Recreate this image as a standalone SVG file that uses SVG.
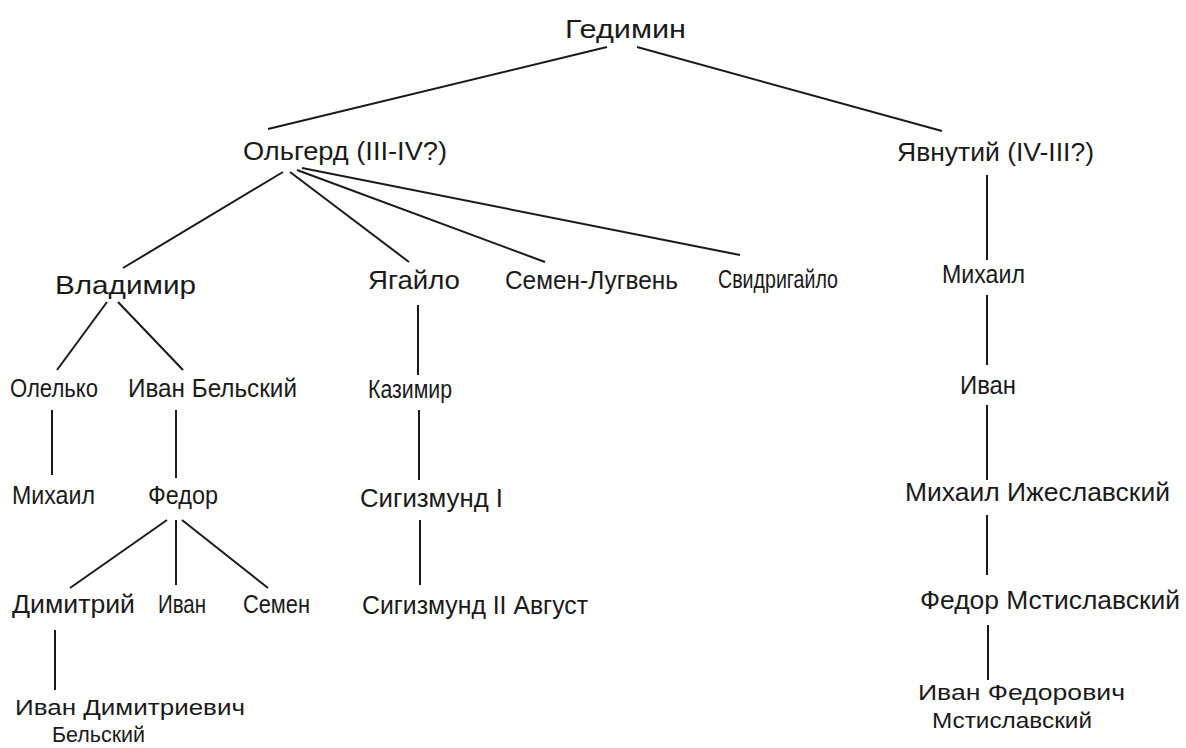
<svg xmlns="http://www.w3.org/2000/svg" width="1186" height="748" viewBox="0 0 1186 748">
<style>
text{font-family:"Liberation Sans Narrow","Liberation Sans",Arial,sans-serif;font-size:26px;fill:#1a1a1a;}
.two text{font-size:22px;}
.c line{stroke:#1a1a1a;stroke-width:2;}
</style>
<rect width="1186" height="748" fill="#ffffff"/>
<g class="c" id="connectors">
<line x1="607" y1="47" x2="268" y2="129"/>
<line x1="637" y1="47" x2="942" y2="131"/>
<line x1="283" y1="172" x2="123" y2="268"/>
<line x1="290" y1="172" x2="409" y2="262"/>
<line x1="297" y1="170" x2="545" y2="262"/>
<line x1="302" y1="168" x2="740" y2="255"/>
<line x1="107" y1="302" x2="57" y2="370"/>
<line x1="118" y1="302" x2="183" y2="370"/>
<line x1="52" y1="410" x2="52" y2="475"/>
<line x1="176" y1="410" x2="176" y2="478"/>
<line x1="167" y1="520" x2="70" y2="588"/>
<line x1="176" y1="520" x2="176" y2="585"/>
<line x1="182" y1="520" x2="268" y2="588"/>
<line x1="55" y1="630" x2="55" y2="690"/>
<line x1="418" y1="305" x2="418" y2="375"/>
<line x1="419" y1="410" x2="419" y2="480"/>
<line x1="420" y1="520" x2="420" y2="585"/>
<line x1="987" y1="175" x2="987" y2="260"/>
<line x1="987" y1="295" x2="987" y2="365"/>
<line x1="987" y1="405" x2="987" y2="480"/>
<line x1="987" y1="515" x2="987" y2="575"/>
<line x1="988" y1="625" x2="988" y2="680"/>
</g>
<g id="gedimin"><text x="565" y="38" textLength="121" lengthAdjust="spacingAndGlyphs">Гедимин</text></g>
<g id="olgerd"><text x="243" y="160" textLength="204" lengthAdjust="spacingAndGlyphs">Ольгерд (III-IV?)</text></g>
<g id="yavnutiy"><text x="897" y="161" textLength="197" lengthAdjust="spacingAndGlyphs">Явнутий (IV-III?)</text></g>
<g id="vladimir"><text x="55" y="294" textLength="141" lengthAdjust="spacingAndGlyphs">Владимир</text></g>
<g id="yagailo"><text x="368" y="289" textLength="92" lengthAdjust="spacingAndGlyphs">Ягайло</text></g>
<g id="semen-lugven"><text x="505" y="289" textLength="173" lengthAdjust="spacingAndGlyphs">Семен-Лугвень</text></g>
<g id="svidrigailo"><text x="718" y="288" textLength="120" lengthAdjust="spacingAndGlyphs">Свидригайло</text></g>
<g id="mikhail-y1"><text x="942" y="283" textLength="83" lengthAdjust="spacingAndGlyphs">Михаил</text></g>
<g id="olelko"><text x="10" y="397" textLength="88" lengthAdjust="spacingAndGlyphs">Олелько</text></g>
<g id="ivan-belsky"><text x="128" y="397" textLength="169" lengthAdjust="spacingAndGlyphs">Иван Бельский</text></g>
<g id="kazimir"><text x="368" y="398" textLength="84" lengthAdjust="spacingAndGlyphs">Казимир</text></g>
<g id="ivan-y"><text x="960" y="394" textLength="56" lengthAdjust="spacingAndGlyphs">Иван</text></g>
<g id="mikhail-o"><text x="12" y="504" textLength="83" lengthAdjust="spacingAndGlyphs">Михаил</text></g>
<g id="fedor-b"><text x="148" y="504" textLength="70" lengthAdjust="spacingAndGlyphs">Федор</text></g>
<g id="sigismund1"><text x="360" y="507" textLength="143" lengthAdjust="spacingAndGlyphs">Сигизмунд I</text></g>
<g id="mikhail-izh"><text x="905" y="501" textLength="265" lengthAdjust="spacingAndGlyphs">Михаил Ижеславский</text></g>
<g id="dimitriy"><text x="12" y="613" textLength="123" lengthAdjust="spacingAndGlyphs">Димитрий</text></g>
<g id="ivan-f"><text x="158" y="613" textLength="48" lengthAdjust="spacingAndGlyphs">Иван</text></g>
<g id="semen"><text x="243" y="613" textLength="67" lengthAdjust="spacingAndGlyphs">Семен</text></g>
<g id="sigismund2"><text x="362" y="614" textLength="226" lengthAdjust="spacingAndGlyphs">Сигизмунд II Август</text></g>
<g id="fedor-m"><text x="920" y="609" textLength="260" lengthAdjust="spacingAndGlyphs">Федор Мстиславский</text></g>
<g id="ivan-dim" class="two"><text x="15" y="715" textLength="230" lengthAdjust="spacingAndGlyphs">Иван Димитриевич</text><text x="52" y="742" textLength="93" lengthAdjust="spacingAndGlyphs">Бельский</text></g>
<g id="ivan-fed" class="two"><text x="918" y="700" textLength="207" lengthAdjust="spacingAndGlyphs">Иван Федорович</text><text x="932" y="728" textLength="160" lengthAdjust="spacingAndGlyphs">Мстиславский</text></g>
</svg>
